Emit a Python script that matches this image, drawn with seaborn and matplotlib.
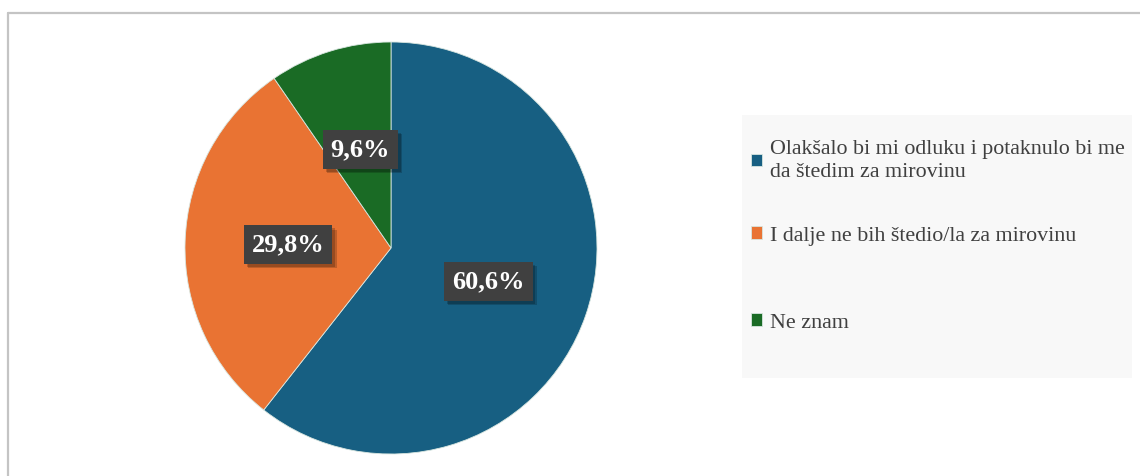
"""Pie chart: attitude toward retirement savings
"""

import matplotlib
matplotlib.use('Agg')
import matplotlib.pyplot as plt
import matplotlib.patheffects as pe
from matplotlib.patches import Rectangle
from matplotlib.lines import Line2D
import seaborn as sns

# Data
categories = ['Olakšalo bi mi odluku i potaknulo bi me\nda štedim za mirovinu',
              'I dalje ne bih štedio/la za mirovinu',
              'Ne znam']
shares = [60.6, 29.8, 9.6]

sns.set_theme(style='white')
plt.rcParams['font.family'] = ['Liberation Serif', 'DejaVu Serif']

colors = sns.color_palette(['#175f82', '#e97333', '#1a6b25'])

W, H = 1140, 476
fig = plt.figure(figsize=(W / 100, H / 100), dpi=100)

# Outer frame (top and left edges only visible)
fig.add_artist(Line2D([8 / W, 8 / W], [0, 1 - 12.5 / H], transform=fig.transFigure,
                      color='#c4c4c4', lw=1.6))
fig.add_artist(Line2D([8 / W, 1], [1 - 12.5 / H, 1 - 12.5 / H], transform=fig.transFigure,
                      color='#c4c4c4', lw=1.6))

# Pie axes: centre (391, 248), radius 206 px
cx, cy, r = 391, 248, 206
ax = fig.add_axes([(cx - r) / W, (H - cy - r) / H, 2 * r / W, 2 * r / H])

wedges, texts, autotexts = ax.pie(
    shares, colors=colors, startangle=90, counterclock=False,
    autopct=lambda p: '{0:.1f}%'.format(p).replace('.', ','),
    pctdistance=0.5, wedgeprops={'linewidth': 0.6, 'edgecolor': '#d8e6e0'},
    textprops={'color': 'white', 'fontsize': 19, 'fontweight': 'bold'})
ax.set_xlim(-1, 1)
ax.set_ylim(-1, 1)
ax.set_aspect('equal')
ax.axis('off')

for t in autotexts:
    t.set_bbox({'boxstyle': 'square,pad=0.3', 'facecolor': '#404040',
                'edgecolor': 'none'})
    t.get_bbox_patch().set_path_effects(
        [pe.SimplePatchShadow(offset=(3, -3), shadow_rgbFace='black', alpha=0.18),
         pe.SimplePatchShadow(offset=(2, -2), shadow_rgbFace='black', alpha=0.2),
         pe.Normal()])

# Legend panel
fig.add_artist(Rectangle((742 / W, 1 - 378 / H), (1132 - 742) / W, (378 - 115) / H,
                         transform=fig.transFigure, facecolor='#f8f8f8',
                         edgecolor='none', zorder=0))
# one legend per entry so the vertical spacing follows the reference
entry_y = [161, 236, 323]
for w, lab, y in zip(wedges, categories, entry_y):
    leg = fig.legend([w], [lab], loc='center left',
                     bbox_to_anchor=(751 / W, 1 - y / H), frameon=False,
                     fontsize=15.8, handlelength=0.5, handleheight=0.5,
                     handletextpad=0.35, borderaxespad=0, borderpad=0)
    txt = leg.get_texts()[0]
    txt.set_color('#404040')
    txt.set_linespacing(1.35)

plt.savefig('out.png', dpi=100)
